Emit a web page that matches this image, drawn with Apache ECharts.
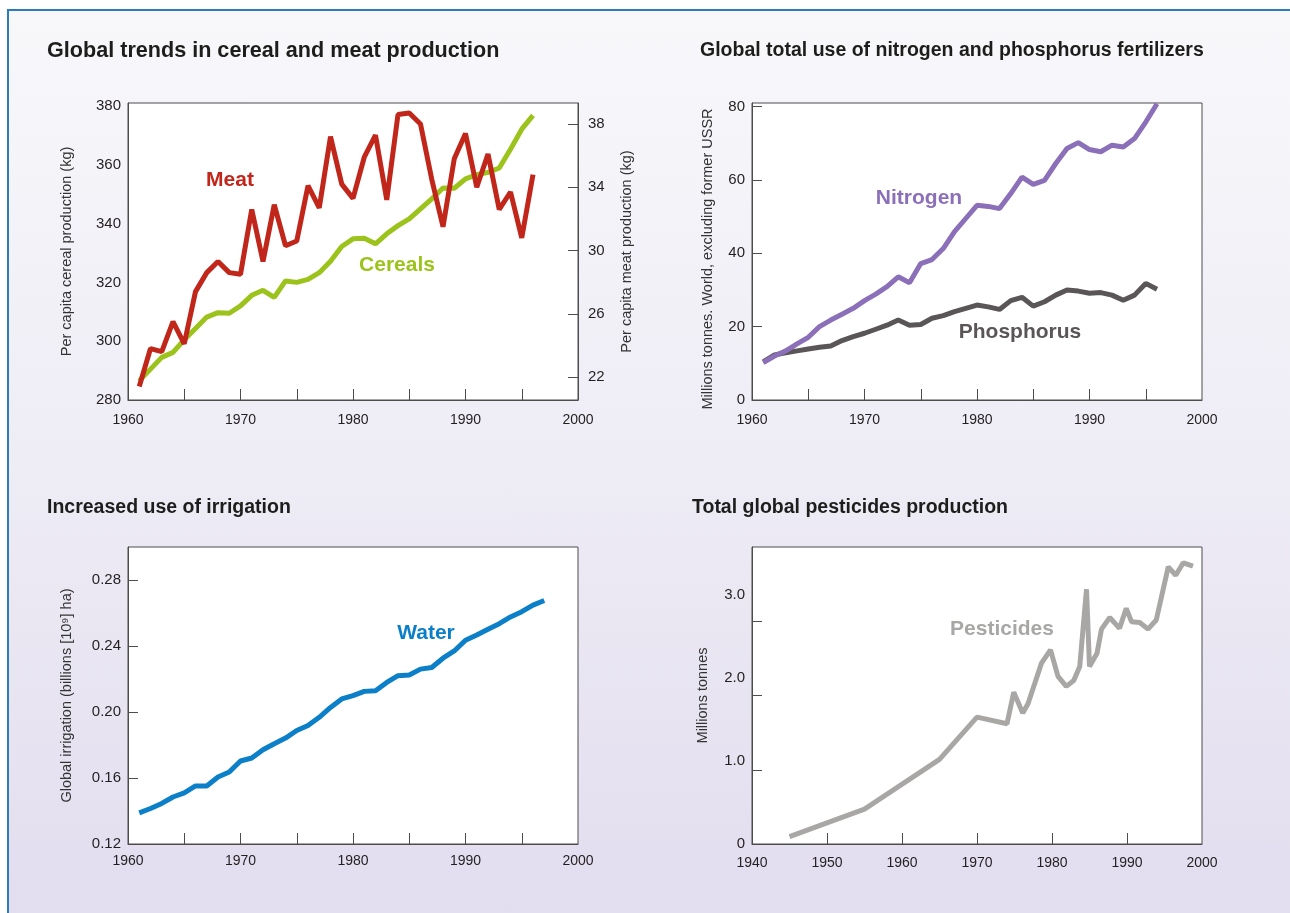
<!DOCTYPE html>
<html>
<head>
<meta charset="utf-8">
<script src="https://cdn.jsdelivr.net/npm/echarts@6/dist/echarts.min.js"></script>
<style>
  html, body { margin: 0; padding: 0; background: #ffffff; width: 1290px; height: 913px; overflow: hidden; }
  #bg { position: absolute; left: 7px; top: 9px; width: 1290px; height: 910px;
        border-top: 2px solid #2b7bbd; border-left: 2px solid #2b7bbd;
        background: linear-gradient(to bottom, #f8f8fb 0%, #eeecf5 50%, #e2ddef 100%); }
  #chart { position: absolute; left: 0; top: 0; width: 1290px; height: 913px; }
</style>
</head>
<body>
<div id="bg"></div>
<div id="chart"></div>
<script>
// ---------- Data ----------
const foodYears = [1961,1962,1963,1964,1965,1966,1967,1968,1969,1970,1971,1972,1973,1974,1975,1976,1977,1978,1979,1980,1981,1982,1983,1984,1985,1986,1987,1988,1989,1990,1991,1992,1993,1994,1995,1996];
const cerealKg = [286.5,290.5,294.5,296.2,300.5,304.3,308.2,309.7,309.5,312.0,315.6,317.3,314.9,320.5,320.0,321.0,323.3,327.2,332.2,334.8,335.0,333.1,336.5,339.3,341.6,345.0,348.4,352.1,352.0,355.2,356.6,357.4,358.9,365.3,372.1,376.8];
const meatKg = [21.4,23.8,23.6,25.5,24.1,27.4,28.6,29.3,28.6,28.5,32.6,29.3,32.9,30.3,30.6,34.1,32.7,37.2,34.2,33.3,35.9,37.3,33.2,38.6,38.7,38.0,34.5,31.5,35.8,37.4,34.0,36.1,32.6,33.7,30.8,34.8];

const fertYears = [1961,1962,1963,1964,1965,1966,1967,1968,1969,1970,1971,1972,1973,1974,1975,1976,1977,1978,1979,1980,1981,1982,1983,1984,1985,1986,1987,1988,1989,1990,1991,1992,1993,1994,1995,1996];
const nitrogenMt = [10.2,12.0,13.4,15.3,17.1,20.0,21.8,23.4,25.0,27.1,28.9,30.9,33.6,32.0,37.2,38.3,41.3,45.9,49.5,53.1,52.8,52.2,56.3,60.8,58.8,59.9,64.5,68.6,70.2,68.3,67.7,69.5,69.0,71.3,75.8,80.8];
const phosphorusMt = [10.4,12.3,12.9,13.4,13.9,14.4,14.7,16.2,17.3,18.2,19.3,20.4,21.8,20.4,20.6,22.3,23.0,24.1,25.0,25.9,25.4,24.7,27.1,28.0,25.6,26.8,28.6,30.0,29.7,29.1,29.3,28.6,27.2,28.6,31.8,30.2];

const waterYears = [1961,1962,1963,1964,1965,1966,1967,1968,1969,1970,1971,1972,1973,1974,1975,1976,1977,1978,1979,1980,1981,1982,1983,1984,1985,1986,1987,1988,1989,1990,1991,1992,1993,1994,1995,1996,1997];
const irrigationBha = [0.1389,0.1415,0.1446,0.1485,0.1510,0.1552,0.1552,0.1606,0.1636,0.1703,0.1721,0.1771,0.1808,0.1842,0.1888,0.1918,0.1968,0.2028,0.2079,0.2099,0.2125,0.2129,0.2179,0.2220,0.2224,0.2260,0.2270,0.2326,0.2370,0.2435,0.2467,0.2501,0.2535,0.2576,0.2608,0.2648,0.2676];

const pestYears = [1945,1955,1965,1970,1974,1974.9,1976.1,1976.8,1978.6,1979.8,1980.8,1981.9,1982.9,1983.7,1984.6,1985.0,1986.0,1986.6,1987.7,1989.0,1989.9,1990.6,1991.7,1992.8,1993.9,1995.5,1996.5,1997.5,1998.8];
const pesticidesMt = [0.09,0.42,1.02,1.53,1.45,1.83,1.58,1.69,2.18,2.34,2.02,1.90,1.97,2.14,3.07,2.14,2.30,2.59,2.73,2.60,2.84,2.68,2.67,2.59,2.70,3.34,3.24,3.39,3.35];

// ---------- Tick labels ----------
const yearLabels6000 = [1960,1970,1980,1990,2000];
const yearTicks6000 = [1965,1970,1975,1980,1985,1990,1995];
const yearLabels4000 = [1940,1950,1960,1970,1980,1990,2000];
const yearTicks4000 = [1950,1960,1970,1980,1990];
const cerealTicks = [280,300,320,340,360,380];
const meatTicks = [22,26,30,34,38];
const fertTicks = [0,20,40,60,80];
const irrigTicks = [0.12,0.16,0.20,0.24,0.28];
const pestLabelTicks = [0,1,2,3];
const pestMarkTicks = [1,2,3];

const titles = [
  'Global trends in cereal and meat production',
  'Global total use of nitrogen and phosphorus fertilizers',
  'Increased use of irrigation',
  'Total global pesticides production'
];

// ---------- Styles ----------
const FONT = '"Liberation Sans", Arial, Helvetica, sans-serif';
const TXT = '#231f20';
const AXC = '#4d4d4d';
const C = { meat:'#c1261b', cereal:'#9bc31c', nitro:'#8b70b9', phos:'#5a5556', water:'#0b7fc7', pest:'#a8a7a6' };
const NAME_STYLE = { color:'#333', fontSize:14.5, fontFamily:FONT };

const pair = (xs, ys) => xs.map((x, i) => [x, ys[i]]);

function xAxisDef(gi, min, max, labels, ticks, margin) {
  return {
    type:'value', gridIndex: gi, min, max,
    axisLine:{ show:true, lineStyle:{ color:AXC, width:1 } },
    axisTick:{ show:true, inside:true, length:11, customValues: ticks, lineStyle:{ color:AXC } },
    axisLabel:{ show:true, customValues: labels, margin, color:TXT, fontSize:14, fontFamily:FONT, formatter:v => String(v) },
    splitLine:{ show:false }
  };
}
function yAxisDef(gi, min, max, labels, ticks, opts) {
  return Object.assign({
    type:'value', gridIndex: gi, min, max, position:'left',
    axisLine:{ show:true, lineStyle:{ color:AXC, width:1 } },
    axisTick: ticks ? { show:true, inside:true, length:10, customValues: ticks, lineStyle:{ color:AXC } } : { show:false },
    axisLabel: labels ? { show:true, customValues: labels, margin:7, color:TXT, fontSize:15, fontFamily:FONT } : { show:false },
    splitLine:{ show:false },
    nameLocation:'middle', nameRotate:90,
    nameTextStyle: NAME_STYLE
  }, opts || {});
}

const gridCommon = { show:true, backgroundColor:'#ffffff', borderColor:AXC, borderWidth:1, containLabel:false, outerBoundsMode:'none' };

const option = {
  backgroundColor:'transparent',
  animation:false,
  title: [
    { text:titles[0], left:47, top:40, size:21.6 },
    { text:titles[1], left:700, top:41, size:19.5 },
    { text:titles[2], left:47, top:498, size:19.5 },
    { text:titles[3], left:692, top:498, size:19.5 }
  ].map(t => ({ text:t.text, left:t.left, top:t.top, padding:0,
    textStyle:{ fontSize:t.size, fontWeight:'bold', color:'#1d1d1b', fontFamily:FONT } })),
  grid: [
    Object.assign({ left:128, top:103, width:450, height:297 }, gridCommon),
    Object.assign({ left:752, top:103, width:450, height:297 }, gridCommon),
    Object.assign({ left:128, top:547, width:450, height:297 }, gridCommon),
    Object.assign({ left:752, top:547, width:450, height:297 }, gridCommon)
  ],
  xAxis: [
    xAxisDef(0, 1960, 2000, yearLabels6000, yearTicks6000, 13),
    xAxisDef(1, 1960, 2000, yearLabels6000, yearTicks6000, 13),
    xAxisDef(2, 1960, 2000, yearLabels6000, yearTicks6000, 10),
    xAxisDef(3, 1940, 2000, yearLabels4000, yearTicks4000, 12)
  ],
  yAxis: [
    // 0: cereals (left)
    yAxisDef(0, 280, 381, cerealTicks, null, { name:'Per capita cereal production (kg)', nameGap:54 }),
    // 1: meat (right)
    yAxisDef(0, 20.545, 39.33, meatTicks, meatTicks, {
      position:'right', name:'Per capita meat production (kg)', nameGap:41,
      axisLabel:{ show:true, customValues: meatTicks, margin:10, color:TXT, fontSize:15, fontFamily:FONT }
    }),
    // 2: fertilizers
    yAxisDef(1, 0, 81, fertTicks, fertTicks, { name:'Millions tonnes. World, excluding former USSR', nameGap:37,
      nameTextStyle:Object.assign({}, NAME_STYLE, { padding:[0,15,0,0] }) }),
    // 3: irrigation
    yAxisDef(2, 0.12, 0.30, irrigTicks, irrigTicks, { name:'Global irrigation (billions [10\u2079] ha)', nameGap:54,
      axisLabel:{ show:true, customValues: irrigTicks, margin:7, color:TXT, fontSize:15, fontFamily:FONT, formatter:v => v.toFixed(2) } }),
    // 4: pesticides (labelled scale)
    yAxisDef(3, 0, 3.58, pestLabelTicks, null, { name:'Millions tonnes', nameGap:41.5,
      axisLabel:{ show:true, customValues: pestLabelTicks, margin:7, color:TXT, fontSize:15, fontFamily:FONT, formatter:v => v === 0 ? '0' : v.toFixed(1) } }),
    // 5: pesticides tick marks (as drawn in the original)
    yAxisDef(3, 0, 4, null, pestMarkTicks, { axisLine:{ show:false } })
  ],
  series: [
    { type:'line', name:'Cereals', xAxisIndex:0, yAxisIndex:0, data:pair(foodYears, cerealKg), showSymbol:false, lineStyle:{ color:C.cereal, width:5 }, z:2 },
    { type:'line', name:'Meat', xAxisIndex:0, yAxisIndex:1, data:pair(foodYears, meatKg), showSymbol:false, lineStyle:{ color:C.meat, width:5 }, z:3 },
    { type:'line', name:'Phosphorus', xAxisIndex:1, yAxisIndex:2, data:pair(fertYears, phosphorusMt), showSymbol:false, lineStyle:{ color:C.phos, width:5 } },
    { type:'line', name:'Nitrogen', xAxisIndex:1, yAxisIndex:2, data:pair(fertYears, nitrogenMt), showSymbol:false, lineStyle:{ color:C.nitro, width:5 } },
    { type:'line', name:'Water', xAxisIndex:2, yAxisIndex:3, data:pair(waterYears, irrigationBha), showSymbol:false, lineStyle:{ color:C.water, width:5 } },
    { type:'line', name:'Pesticides', xAxisIndex:3, yAxisIndex:4, data:pair(pestYears, pesticidesMt), showSymbol:false, lineStyle:{ color:C.pest, width:5 } }
  ],
  graphic: [
    ['Meat', 230, 180, C.meat],
    ['Cereals', 397, 265, C.cereal],
    ['Nitrogen', 919, 198, C.nitro],
    ['Phosphorus', 1020, 332, C.phos],
    ['Water', 426, 633, C.water],
    ['Pesticides', 1002, 629, C.pest]
  ].map(([t, x, y, c]) => ({
    type:'text', x, y, z:100,
    style:{ text:t, fill:c, font:'bold 21px ' + FONT, align:'center', verticalAlign:'middle' }
  }))
};

const chart = echarts.init(document.getElementById('chart'), null, { renderer:'canvas' });
chart.setOption(option);
</script>
</body>
</html>
